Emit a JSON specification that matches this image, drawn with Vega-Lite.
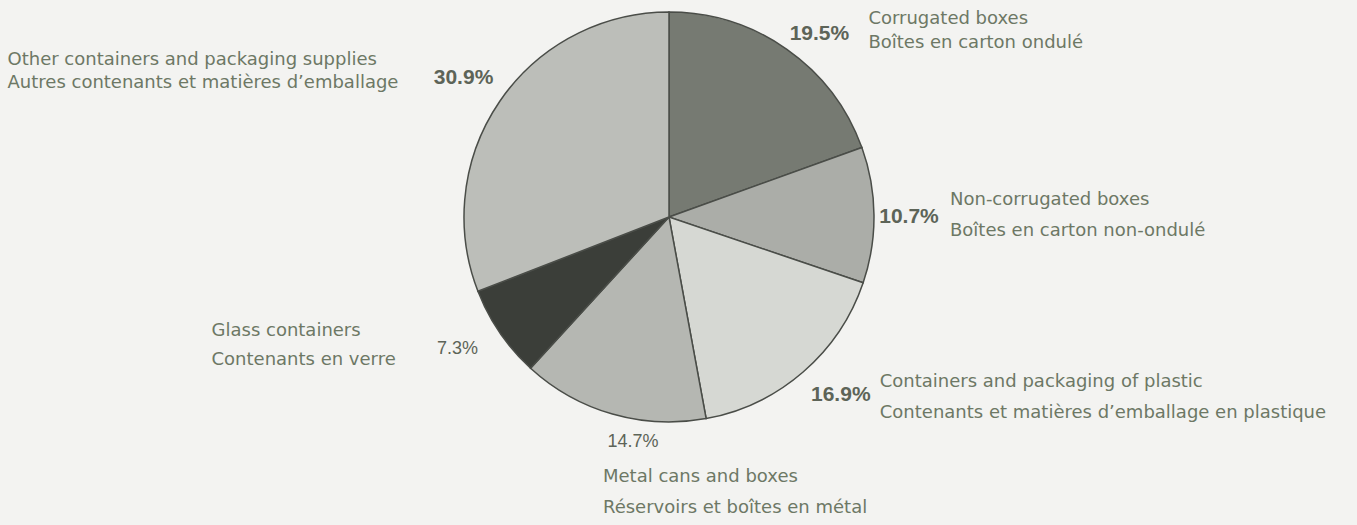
{
  "$schema": "https://vega.github.io/schema/vega-lite/v6.json",
  "autosize": "none",
  "width": 1338,
  "height": 434,
  "padding": {"left": 0, "top": 0, "right": 19, "bottom": 91},
  "background": "#f3f3f1",
  "config": {"view": {"stroke": null}},
  "data": {
    "values": [
      {"rank": 0, "en": "Corrugated boxes", "label": "Corrugated boxes\nBoîtes en carton ondulé", "share": 19.5, "pct": "19.5%"},
      {"rank": 1, "en": "Non-corrugated boxes", "label": "Non-corrugated boxes\nBoîtes en carton non-ondulé", "share": 10.7, "pct": "10.7%"},
      {"rank": 2, "en": "Containers and packaging of plastic", "label": "Containers and packaging of plastic\nContenants et matières d’emballage en plastique", "share": 16.9, "pct": "16.9%"},
      {"rank": 3, "en": "Metal cans and boxes", "label": "Metal cans and boxes\nRéservoirs et boîtes en métal", "share": 14.7, "pct": "14.7%"},
      {"rank": 4, "en": "Glass containers", "label": "Glass containers\nContenants en verre", "share": 7.3, "pct": "7.3%"},
      {"rank": 5, "en": "Other containers and packaging supplies", "label": "Other containers and packaging supplies\nAutres contenants et matières d’emballage", "share": 30.9, "pct": "30.9%"}
    ]
  },
  "encoding": {
    "theta": {"field": "share", "type": "quantitative", "stack": true},
    "order": {"field": "rank", "type": "quantitative"}
  },
  "layer": [
    {
      "mark": {"type": "arc", "outerRadius": 205, "stroke": "#4a4d48", "strokeWidth": 1.5},
      "encoding": {
        "color": {
          "field": "en",
          "type": "nominal",
          "legend": null,
          "scale": {
            "domain": ["Corrugated boxes", "Non-corrugated boxes", "Containers and packaging of plastic", "Metal cans and boxes", "Glass containers", "Other containers and packaging supplies"],
            "range": ["#767a72", "#abada8", "#d6d8d3", "#b5b7b2", "#3b3e39", "#bcbeb9"]
          }
        }
      }
    },
    {
      "mark": {
        "type": "text",
        "radius": 232,
        "font": "Liberation Sans",
        "fontSize": {"expr": "datum.rank == 3 || datum.rank == 4 ? 18 : 21"},
        "fontWeight": {"expr": "datum.rank == 3 || datum.rank == 4 ? 'normal' : 'bold'"},
        "fill": "#5d6458",
        "align": "center",
        "baseline": "middle",
        "dx": {"expr": "[17,8,20,28,-20,-14][datum.rank]"},
        "dy": {"expr": "[7,2,3,2,1,-8][datum.rank]"}
      },
      "encoding": {"text": {"field": "pct", "type": "nominal"}}
    },
    {
      "mark": {
        "type": "text",
        "radius": 232,
        "font": "DejaVu Sans",
        "fontSize": 18,
        "fill": "#6d7865",
        "align": "left",
        "baseline": "middle",
        "lineBreak": "\n",
        "lineHeight": {"expr": "[24,31,31,31,29,23][datum.rank]"},
        "dx": {"expr": "[66,49,59,-2,-266,-470][datum.rank]"},
        "dy": {"expr": "[-8,-15,-10,37,-17,-26][datum.rank]"}
      },
      "encoding": {"text": {"field": "label", "type": "nominal"}}
    }
  ]
}
